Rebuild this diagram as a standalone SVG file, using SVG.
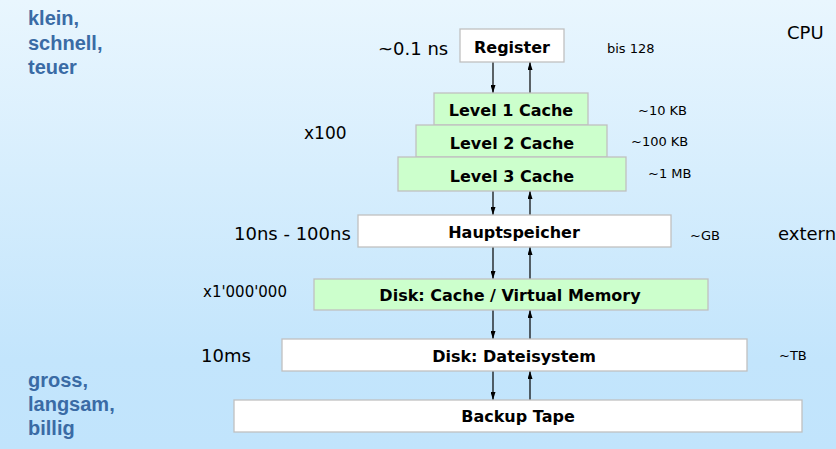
<svg xmlns="http://www.w3.org/2000/svg" width="836" height="449" viewBox="0 0 836 449">
  <defs>
    <linearGradient id="bg" x1="0" y1="0" x2="0" y2="1">
      <stop offset="0" stop-color="#e9f6fe"/>
      <stop offset="0.8" stop-color="#c3e5fc"/>
      <stop offset="1" stop-color="#c1e4fc"/>
    </linearGradient>
    <marker id="ah" viewBox="0 0 8 5" refX="8" refY="2.5" markerWidth="8" markerHeight="5" markerUnits="userSpaceOnUse" orient="auto">
      <path d="M0,0 L8,2.5 L0,5 z" fill="#000"/>
    </marker>
  </defs>
  <style>
    .box { stroke: #c0c0c0; stroke-width: 1.3; }
    .w { fill: #ffffff; }
    .g { fill: #ccffcc; }
    .bt { font-family: "DejaVu Sans", Verdana, sans-serif; font-weight: bold; font-size: 16px; fill: #000; text-anchor: middle; }
    .lbl { font-family: "DejaVu Sans", Verdana, sans-serif; fill: #000; }
    .side { font-family: "Liberation Sans", Arial, sans-serif; font-weight: bold; font-size: 20px; fill: #3a6ba5; }
    .arr { stroke: #000; stroke-width: 1.2; fill: none; marker-end: url(#ah); }
  </style>
  <rect x="0" y="0" width="836" height="449" fill="url(#bg)"/>

  <g id="side-labels">
    <text class="side" x="28" y="25">klein,</text>
    <text class="side" x="28" y="50">schnell,</text>
    <text class="side" x="28" y="74">teuer</text>
    <text class="side" x="28" y="387">gross,</text>
    <text class="side" x="28" y="411">langsam,</text>
    <text class="side" x="28" y="435">billig</text>
  </g>

  <g id="annotations">
    <text class="lbl" x="378" y="55" font-size="18">~0.1 ns</text>
    <text class="lbl" x="304" y="139" font-size="17">x100</text>
    <text class="lbl" x="234" y="240" font-size="18">10ns - 100ns</text>
    <text class="lbl" x="203" y="297" font-size="15">x1'000'000</text>
    <text class="lbl" x="201" y="362" font-size="18">10ms</text>
    <text class="lbl" x="607" y="53" font-size="13">bis 128</text>
    <text class="lbl" x="638" y="115" font-size="13">~10 KB</text>
    <text class="lbl" x="631" y="146" font-size="13">~100 KB</text>
    <text class="lbl" x="648" y="178" font-size="13">~1 MB</text>
    <text class="lbl" x="690" y="240" font-size="13">~GB</text>
    <text class="lbl" x="779" y="360" font-size="13">~TB</text>
    <text class="lbl" x="787" y="39" font-size="18">CPU</text>
    <text class="lbl" x="778" y="240" font-size="18">extern</text>
  </g>

  <g id="connectors">
    <line class="arr" x1="493" y1="62" x2="493" y2="93"/>
    <line class="arr" x1="530" y1="93" x2="530" y2="62"/>
    <line class="arr" x1="493" y1="191" x2="493" y2="215"/>
    <line class="arr" x1="530" y1="215" x2="530" y2="191"/>
    <line class="arr" x1="493" y1="247" x2="493" y2="279"/>
    <line class="arr" x1="530" y1="279" x2="530" y2="247"/>
    <line class="arr" x1="493" y1="310" x2="493" y2="339"/>
    <line class="arr" x1="530" y1="339" x2="530" y2="310"/>
    <line class="arr" x1="493" y1="371" x2="493" y2="400"/>
    <line class="arr" x1="530" y1="400" x2="530" y2="371"/>
  </g>

  <g id="register">
    <rect class="box w" x="460" y="29" width="104" height="33"/>
    <text class="bt" x="512" y="53">Register</text>
  </g>
  <g id="l1">
    <rect class="box g" x="434" y="93" width="154" height="32"/>
    <text class="bt" x="511" y="116" font-size="14.5">Level 1 Cache</text>
  </g>
  <g id="l2">
    <rect class="box g" x="416" y="125" width="191" height="32"/>
    <text class="bt" x="512" y="149" font-size="14.5">Level 2 Cache</text>
  </g>
  <g id="l3">
    <rect class="box g" x="398" y="157" width="228" height="34"/>
    <text class="bt" x="512" y="182" font-size="14.5">Level 3 Cache</text>
  </g>
  <g id="hauptspeicher">
    <rect class="box w" x="358" y="215" width="313" height="32"/>
    <text class="bt" x="514" y="238">Hauptspeicher</text>
  </g>
  <g id="diskcache">
    <rect class="box g" x="314" y="279" width="394" height="31"/>
    <text class="bt" x="510" y="301" font-size="14.3">Disk: Cache / Virtual Memory</text>
  </g>
  <g id="dateisystem">
    <rect class="box w" x="282" y="339" width="465" height="32"/>
    <text class="bt" x="514" y="362">Disk: Dateisystem</text>
  </g>
  <g id="backup">
    <rect class="box w" x="234" y="400" width="568" height="32"/>
    <text class="bt" x="518" y="422">Backup Tape</text>
  </g>
</svg>
